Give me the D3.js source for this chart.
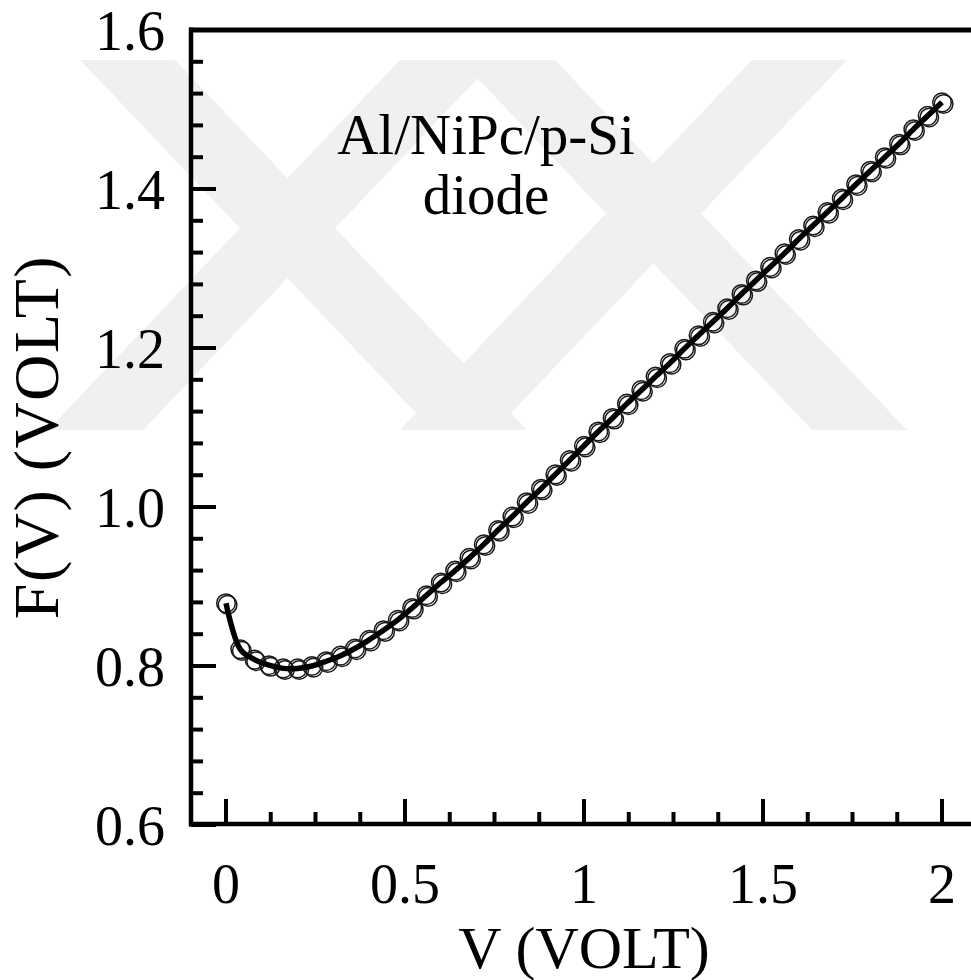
<!DOCTYPE html>
<html>
<head>
<meta charset="utf-8">
<script src="https://cdn.jsdelivr.net/npm/d3@7"></script>
<style>
html,body{margin:0;padding:0;background:#fff;}
svg{display:block;}
text{font-family:"Liberation Serif","Times New Roman",serif;fill:#000;}
</style>
</head>
<body>
<svg id="chart" width="971" height="980"></svg>
<script>
// ---- data ----
const voltage = [0.00,0.04,0.08,0.12,0.16,0.20,0.24,0.28,0.32,0.36,0.40,0.44,0.48,0.52,0.56,0.60,0.64,0.68,0.72,0.76,0.80,0.84,0.88,0.92,0.96,1.00,1.04,1.08,1.12,1.16,1.20,1.24,1.28,1.32,1.36,1.40,1.44,1.48,1.52,1.56,1.60,1.64,1.68,1.72,1.76,1.80,1.84,1.88,1.92,1.96,2.00];
const fv = [0.879,0.821,0.808,0.801,0.797,0.797,0.800,0.806,0.813,0.822,0.833,0.845,0.858,0.873,0.889,0.905,0.920,0.936,0.953,0.971,0.988,1.006,1.023,1.041,1.059,1.077,1.095,1.112,1.130,1.147,1.164,1.181,1.199,1.216,1.233,1.250,1.268,1.285,1.302,1.319,1.337,1.354,1.371,1.388,1.406,1.423,1.440,1.457,1.475,1.492,1.509];
const xMajor = [0,0.5,1,1.5,2];
const xMinor = [0.125,0.25,0.375,0.625,0.75,0.875,1.125,1.25,1.375,1.625,1.75,1.875];
const yMajor = [0.6,0.8,1.0,1.2,1.4,1.6];
const yMinor = [0.64,0.68,0.72,0.76,0.84,0.88,0.92,0.96,1.04,1.08,1.12,1.16,1.24,1.28,1.32,1.36,1.44,1.48,1.52,1.56];
const xTickLabels = ["0","0.5","1","1.5","2"];
const yTickLabels = ["0.6","0.8","1.0","1.2","1.4","1.6"];
const xTitle = "V (VOLT)";
const yTitle = "F(V) (VOLT)";
const noteLines = ["Al/NiPc/p-Si","diode"];

// ---- layout ----
const svg = d3.select("#chart");
const x = d3.scaleLinear().domain([0,2]).range([226,942]);
const y = d3.scaleLinear().domain([0.6,1.6]).range([825,30]);
const axisX = 191, bottomY = 824, topY = 30, rightX = 975;

// watermark (background decoration)
const wm = svg.append("g").attr("fill","#f0f0f0");
const wTop = 60, wBot = 430, shift = 352, bw = 95;
const back = [80, 460];      // "\" bands: top-left x
const fwd = [400, 752];      // "/" bands: top-left x
back.forEach(t => wm.append("polygon").attr("points",
  `${t},${wTop} ${t+bw},${wTop} ${t+bw+shift},${wBot} ${t+shift},${wBot}`));
fwd.forEach(t => wm.append("polygon").attr("points",
  `${t},${wTop} ${t+bw},${wTop} ${t+bw-shift},${wBot} ${t-shift},${wBot}`));

// frame lines
svg.append("line").attr("x1",axisX).attr("x2",axisX).attr("y1",topY-2.5).attr("y2",bottomY+2.5)
  .attr("stroke","#000").attr("stroke-width",4.5);
svg.append("line").attr("x1",axisX-2).attr("x2",rightX).attr("y1",topY).attr("y2",topY)
  .attr("stroke","#000").attr("stroke-width",5);
svg.append("line").attr("x1",axisX-2).attr("x2",rightX).attr("y1",bottomY).attr("y2",bottomY)
  .attr("stroke","#000").attr("stroke-width",4.5);

// y ticks
const gy = svg.append("g");
gy.selectAll("line.maj").data(yMajor).join("line")
  .attr("x1",axisX).attr("x2",axisX+25).attr("y1",d=>y(d)).attr("y2",d=>y(d))
  .attr("stroke","#000").attr("stroke-width",4);
gy.selectAll("line.min").data(yMinor).join("line").attr("class","min")
  .attr("x1",axisX).attr("x2",axisX+12).attr("y1",d=>y(d)).attr("y2",d=>y(d))
  .attr("stroke","#000").attr("stroke-width",4);
gy.selectAll("text").data(yMajor).join("text")
  .attr("x",165).attr("y",d=>y(d)).attr("dy","0.36em")
  .attr("text-anchor","end").attr("font-size",56)
  .text((d,i)=>yTickLabels[i]);

// x ticks
const gx = svg.append("g");
gx.selectAll("line.maj").data(xMajor).join("line")
  .attr("x1",d=>x(d)).attr("x2",d=>x(d)).attr("y1",bottomY).attr("y2",bottomY-25)
  .attr("stroke","#000").attr("stroke-width",4);
gx.selectAll("line.min").data(xMinor).join("line").attr("class","min")
  .attr("x1",d=>x(d)).attr("x2",d=>x(d)).attr("y1",bottomY).attr("y2",bottomY-12)
  .attr("stroke","#000").attr("stroke-width",4);
gx.selectAll("text").data(xMajor).join("text")
  .attr("x",d=>x(d)).attr("y",903)
  .attr("text-anchor","middle").attr("font-size",56)
  .text((d,i)=>xTickLabels[i]);

// titles
svg.append("text").attr("x",584).attr("y",968).attr("text-anchor","middle")
  .attr("font-size",60).text(xTitle);
svg.append("text").attr("transform","translate(58,437) rotate(-90)")
  .attr("text-anchor","middle").attr("font-size",64).attr("letter-spacing",1.5).text(yTitle);

// annotation
svg.append("text").attr("x",486).attr("y",154).attr("text-anchor","middle")
  .attr("font-size",57).text(noteLines[0]);
svg.append("text").attr("x",486).attr("y",214).attr("text-anchor","middle")
  .attr("font-size",57).text(noteLines[1]);

// data
const pts = voltage.map((v,i)=>({v, f: fv[i]}));
const gm = svg.append("g").attr("fill","none").attr("stroke","#1a1a1a").attr("stroke-width",1.5);
gm.selectAll("circle.a").data(pts).join("circle").attr("class","a")
  .attr("cx",d=>x(d.v)).attr("cy",d=>y(d.f)).attr("r",9.3);
gm.selectAll("circle.b").data(pts).join("circle").attr("class","b")
  .attr("cx",d=>x(d.v)+1.6).attr("cy",d=>y(d.f)+1.6).attr("r",9.3);

const line = d3.line().x(d=>x(d.v)).y(d=>y(d.f)).curve(d3.curveCatmullRom.alpha(0.5));
svg.append("path").datum(pts).attr("d",line)
  .attr("fill","none").attr("stroke","#000").attr("stroke-width",5.5);
</script>
</body>
</html>
